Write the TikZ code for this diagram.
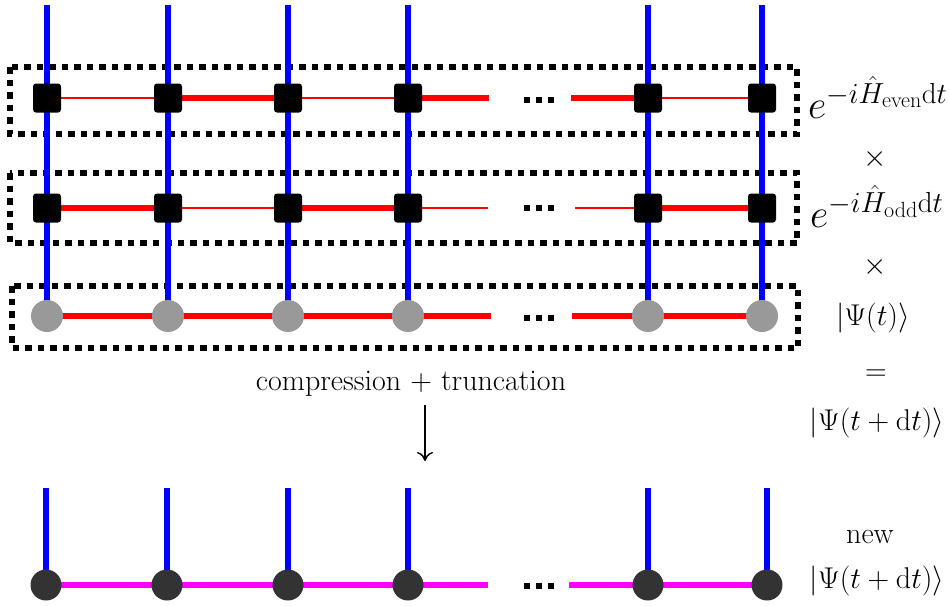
\RequirePackage{fix-cm}
\documentclass[tikz,border=0pt]{standalone}
\usepackage{amsmath}
\usetikzlibrary{arrows.meta}
\DeclareMathSizes{40}{40}{29}{22}
\definecolor{sitegray}{HTML}{999999}
\definecolor{newgray}{HTML}{333333}
\definecolor{puremagenta}{HTML}{FF00FF}
\definecolor{purered}{HTML}{FF0000}
\definecolor{pureblue}{HTML}{0000FF}
\tikzset{
  phys/.style={pureblue,line width=6pt},
  bondA/.style={purered,line width=6pt},
  bondB/.style={purered,line width=1.8pt},
  bondN/.style={puremagenta,line width=6pt},
  gate/.style={rectangle,fill=black,minimum width=28pt,minimum height=29pt,rounded corners=3pt,inner sep=0pt},
  site/.style={circle,fill=sitegray,minimum size=32pt,inner sep=0pt},
  newsite/.style={circle,fill=newgray,minimum size=31pt,inner sep=0pt},
  dotbox/.style={draw=black,line width=6.5pt,dash pattern=on 6.5pt off 6pt},
  lbl/.style={font=\fontsize{30}{35}\selectfont,inner sep=0pt},
  biglbl/.style={font=\fontsize{40}{46}\selectfont,inner sep=0pt},
  ddot/.style={fill=black}
}
\begin{document}
\begin{tikzpicture}[x=1pt,y=-1pt]
\useasboundingbox (0,0) rectangle (949,605);
% dotted boxes
\draw[dotbox] (10,67) rectangle (797,134);
\draw[dotbox] (10,173) rectangle (797,243);
\draw[dotbox] (12,286) rectangle (798,348);
% coordinates
\foreach \i/\x in {1/47,2/168,3/288,4/408,5/648,6/762}{
  \coordinate (t\i) at (\x,5);
  \coordinate (a\i) at (\x,98);
  \coordinate (b\i) at (\x,208);
  \coordinate (c\i) at (\x,316);
}
\foreach \i/\x in {1/46,2/167,3/288,4/408,5/648,6/767}{
  \coordinate (u\i) at (\x,488);
  \coordinate (d\i) at (\x,585);
}
\coordinate (ae) at (489,98); \coordinate (as) at (571,98);
\coordinate (be) at (488,208); \coordinate (bs) at (575,208);
\coordinate (ce) at (491,316); \coordinate (cs) at (572,316);
\coordinate (de) at (488,585); \coordinate (ds) at (569,585);
% physical legs
\foreach \i in {1,...,6}{
  \draw[phys] (t\i) -- (c\i);
  \draw[phys] (u\i) -- (d\i);
}
% bonds row 1 (even)
\draw[bondB] (a1) -- (a2);
\draw[bondA] (a2) -- (a3);
\draw[bondB] (a3) -- (a4);
\draw[bondA] (a4) -- (ae);
\draw[bondA] (as) -- (a5);
\draw[bondB] (a5) -- (a6);
% bonds row 2 (odd)
\draw[bondA] (b1) -- (b2);
\draw[bondB] (b2) -- (b3);
\draw[bondA] (b3) -- (b4);
\draw[bondB] (b4) -- (be);
\draw[bondB] (bs) -- (b5);
\draw[bondA] (b5) -- (b6);
% bonds row 3 (state)
\draw[bondA] (c1) -- (c2) -- (c3) -- (c4) -- (ce);
\draw[bondA] (cs) -- (c5) -- (c6);
% bonds new state
\draw[bondN] (d1) -- (d2) -- (d3) -- (d4) -- (de);
\draw[bondN] (ds) -- (d5) -- (d6);
% nodes
\foreach \i in {1,...,6}{
  \node[gate] (A\i) at (a\i) {};
  \node[gate] (B\i) at (b\i) {};
  \node[site] (C\i) at (c\i) {};
  \node[newsite] (D\i) at (d\i) {};
}
% ellipsis dots
\foreach \y in {100,208,318,586}{
  \foreach \x in {527,539,551}{
    \fill[ddot] (\x-3,\y-3) rectangle (\x+3,\y+3);
  }
}
% labels
\node[biglbl,anchor=base west] (Leven) at (808,118) {$e^{-i\hat H_{\mathrm{even}}\mathrm{d}t}$};
\node[lbl] (X1) at (875,159) {$\times$};
\node[biglbl,anchor=base west] (Lodd) at (810,227) {$e^{-i\hat H_{\mathrm{odd}}\mathrm{d}t}$};
\node[lbl] (X2) at (875,267) {$\times$};
\node[lbl] (Lpsi) at (873,318) {$|\Psi(t)\rangle$};
\node[lbl] (Leq) at (876,375) {$=$};
\node[lbl] (Lpsidt) at (877,423) {$|\Psi(t+\mathrm{d}t)\rangle$};
\node[lbl] (Lcomp) at (411,384) {compression $+$ truncation};
\coordinate (arrS) at (425,405);
\coordinate (arrE) at (425,461);
\draw[line width=1.4pt,-{To[length=9pt,width=16pt]}] (arrS) -- (arrE);
\node[lbl] (Lnew) at (870,537) {new};
\node[lbl] (Lpsinew) at (877,581) {$|\Psi(t+\mathrm{d}t)\rangle$};
\end{tikzpicture}
\end{document}
